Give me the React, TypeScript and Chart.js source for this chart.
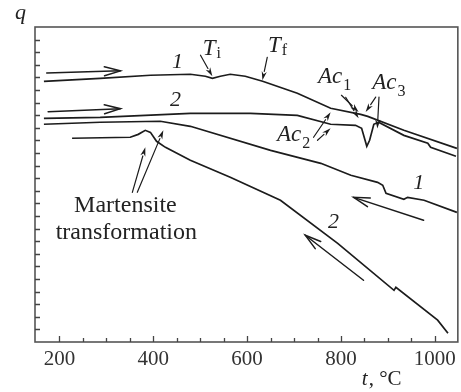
import { useEffect, useRef } from 'react';
import { Chart, registerables } from 'chart.js';

Chart.register(...registerables);

// Axis ticks
const xTickValues = [200, 250, 300, 350, 400, 450, 500, 550, 600, 650, 700, 750, 800, 850, 900, 950, 1000];
const xLabelValues = [200, 400, 600, 800, 1000];
const yTickValues = [1, 2, 3, 4, 5, 6, 7, 8, 9, 10, 11, 12, 13, 14, 15, 16, 17, 18, 19, 20, 21, 22, 23, 24];

// Curve 1, heating
const heat1T = [167, 287, 394, 479, 511, 526, 543, 564, 596, 633, 707, 778, 842, 857, 934, 1047];
const heat1Q = [20.69, 20.93, 21.17, 21.25, 21.09, 20.93, 21.09, 21.25, 21.09, 20.69, 19.74, 18.55, 18.07, 17.91, 16.8, 15.37];

// Curve 2, heating
const heat2T = [167, 287, 479, 607, 707, 778, 831, 844, 855, 861, 870, 880, 934, 985, 991, 1045];
const heat2Q = [17.75, 17.83, 18.15, 18.15, 17.99, 17.28, 17.2, 16.96, 15.53, 16.01, 17.28, 17.44, 16.4, 15.77, 15.45, 14.74];

// Curve 1, cooling
const cool1T = [167, 287, 415, 479, 650, 757, 821, 878, 889, 896, 934, 942, 977, 1047];
const cool1Q = [17.28, 17.44, 17.52, 17.12, 15.21, 14.18, 13.23, 12.67, 12.44, 11.8, 11.33, 11.48, 11.25, 10.29];

// Curve 2, cooling
const cool2T = [227, 351, 368, 383, 394, 407, 426, 479, 564, 671, 793, 913, 917, 1006, 1028];
const cool2Q = [16.17, 16.25, 16.48, 16.8, 16.64, 15.93, 15.45, 14.42, 13.07, 11.25, 7.83, 4.1, 4.34, 1.73, 0.69];

// Direction arrows [t1, q1, t2, q2]
const bigArrows = [
  [173, 21.35, 330, 21.52],
  [176, 18.28, 330, 18.52],
  [976, 9.66, 827, 11.48],
  [848, 4.9, 724, 8.47],
];
// Pointer arrows [t1, q1, t2, q2]
const smallArrows = [
  [500.7, 22.76, 525.9, 21.09],
  [643, 22.6, 632.6, 20.77],
  [801, 19.58, 837.6, 18.25],
  [810, 19.42, 837.6, 17.75],
  [874, 19.44, 852.6, 18.25],
  [881, 19.44, 877.5, 16.94],
  [741.6, 16.25, 777.9, 18.23],
  [750, 16.01, 777.9, 16.96],
  [355.4, 11.88, 383.1, 15.45],
  [366, 11.88, 421.5, 16.8],
];

// Curve number labels
const curveLabelText = ['1', '2', '1', '2'];
const curveLabelT = [451.6, 447.4, 965.7, 784.3];
const curveLabelQ = [22.2, 19.18, 12.6, 9.5];

// Point labels with subscripts
const subMain = ['T', 'T', 'Ac', 'Ac', 'Ac'];
const subSub = ['i', 'f', '1', '3', '2'];
const subT = [505.5, 644.5, 751, 866.5, 663.5];
const subQ = [22.75, 23.0, 20.53, 20.06, 15.93];

// Note
const noteLines = ['Martensite', 'transformation'];
const noteT = [340.7, 342.6];
const noteQ = [10.29, 8.15];

const toPoints = (t: number[], q: number[]) => t.map((v, i) => ({ x: v, y: q[i] }));

const SERIF = '"Liberation Serif", "Times New Roman", serif';
const INK = '#1c1c1c';

function drawArrow(ctx: CanvasRenderingContext2D, x1: number, y1: number, x2: number, y2: number, len: number, half: number, filled: boolean) {
  const ang = Math.atan2(y2 - y1, x2 - x1);
  const cos = Math.cos(ang);
  const sin = Math.sin(ang);
  const bx = x2 - len * cos;
  const by = y2 - len * sin;
  const lx = bx + half * sin;
  const ly = by - half * cos;
  const rx = bx - half * sin;
  const ry = by + half * cos;
  ctx.beginPath();
  ctx.moveTo(x1, y1);
  ctx.lineTo(filled ? bx : x2, filled ? by : y2);
  ctx.stroke();
  ctx.beginPath();
  if (filled) {
    ctx.moveTo(x2, y2);
    ctx.lineTo(lx, ly);
    ctx.lineTo(bx + 0.3 * len * cos, by + 0.3 * len * sin);
    ctx.lineTo(rx, ry);
    ctx.closePath();
    ctx.fill();
  } else {
    ctx.moveTo(lx, ly);
    ctx.lineTo(x2, y2);
    ctx.lineTo(rx, ry);
    ctx.stroke();
  }
}

const decorPlugin = {
  id: 'decor',
  afterDatasetsDraw(chart: any) {
    const { ctx, chartArea } = chart;
    const xs = chart.scales.x;
    const ys = chart.scales.y;
    const { left, right, top, bottom } = chartArea;
    ctx.save();

    // frame
    ctx.strokeStyle = '#555';
    ctx.lineWidth = 1.6;
    ctx.strokeRect(left, top, right - left, bottom - top);

    // inward ticks
    ctx.strokeStyle = '#444';
    ctx.lineWidth = 1.3;
    ctx.beginPath();
    yTickValues.forEach((v) => {
      const y = Math.round(ys.getPixelForValue(v)) + 0.5;
      ctx.moveTo(left, y);
      ctx.lineTo(left + 5, y);
    });
    xTickValues.forEach((v) => {
      const x = Math.round(xs.getPixelForValue(v)) + 0.5;
      const len = xLabelValues.includes(v) ? 6 : 4;
      ctx.moveTo(x, bottom);
      ctx.lineTo(x, bottom - len);
    });
    ctx.stroke();

    // arrows
    ctx.strokeStyle = INK;
    ctx.fillStyle = INK;
    ctx.lineWidth = 1.5;
    ctx.lineCap = 'round';
    bigArrows.forEach((a) => {
      drawArrow(ctx, xs.getPixelForValue(a[0]), ys.getPixelForValue(a[1]), xs.getPixelForValue(a[2]), ys.getPixelForValue(a[3]), 16, 4.5, false);
    });
    ctx.lineWidth = 1.2;
    smallArrows.forEach((a) => {
      drawArrow(ctx, xs.getPixelForValue(a[0]), ys.getPixelForValue(a[1]), xs.getPixelForValue(a[2]), ys.getPixelForValue(a[3]), 9, 2.6, true);
    });

    // curve numbers
    ctx.fillStyle = '#222';
    ctx.textAlign = 'center';
    ctx.textBaseline = 'middle';
    ctx.font = `italic 22px ${SERIF}`;
    curveLabelText.forEach((s, i) => {
      ctx.fillText(s, xs.getPixelForValue(curveLabelT[i]), ys.getPixelForValue(curveLabelQ[i]));
    });

    // labels with subscripts
    ctx.textAlign = 'left';
    ctx.textBaseline = 'alphabetic';
    subMain.forEach((s, i) => {
      const x = xs.getPixelForValue(subT[i]);
      const y = ys.getPixelForValue(subQ[i]);
      ctx.font = `italic 23px ${SERIF}`;
      ctx.fillText(s, x, y);
      const w = ctx.measureText(s).width;
      ctx.font = `16px ${SERIF}`;
      ctx.fillText(subSub[i], x + w + 1, y + (subMain[i] === 'T' ? 3 : 7));
    });

    // note
    ctx.textAlign = 'center';
    ctx.font = `24px ${SERIF}`;
    noteLines.forEach((s, i) => {
      ctx.fillText(s, xs.getPixelForValue(noteT[i]), ys.getPixelForValue(noteQ[i]));
    });

    // axis titles
    ctx.textAlign = 'left';
    ctx.font = `italic 22px ${SERIF}`;
    ctx.fillText('q', left - 20, top - 8);
    ctx.font = `italic 21px ${SERIF}`;
    const tx = right - 96;
    const ty = bottom + 43;
    ctx.fillText('t', tx, ty);
    const tw = ctx.measureText('t').width;
    ctx.font = `21px ${SERIF}`;
    ctx.fillText(', °C', tx + tw + 1, ty);

    ctx.restore();
  },
};

export default function App() {
  const ref = useRef<HTMLCanvasElement | null>(null);

  useEffect(() => {
    document.body.style.margin = '0';
    const canvas = ref.current;
    if (!canvas) return;
    const line = (t: number[], q: number[]) => ({
      data: toPoints(t, q),
      showLine: true,
      borderColor: INK,
      borderWidth: 1.7,
      pointRadius: 0,
      tension: 0,
      fill: false,
    });
    const chart = new Chart(canvas, {
      type: 'scatter',
      data: {
        datasets: [line(heat1T, heat1Q), line(heat2T, heat2Q), line(cool1T, cool1Q), line(cool2T, cool2Q)],
      },
      options: {
        responsive: false,
        animation: false,
        devicePixelRatio: 1,
        layout: { padding: { left: 35, top: 27, right: 3, bottom: 0 } },
        plugins: { legend: { display: false }, tooltip: { enabled: false } },
        scales: {
          x: {
            type: 'linear',
            min: 148,
            max: 1049,
            afterBuildTicks: (s: any) => {
              s.ticks = xTickValues.map((v) => ({ value: v }));
            },
            afterFit: (s: any) => {
              s.height = 50;
            },
            grid: { display: false, drawTicks: false },
            border: { display: false },
            ticks: {
              autoSkip: false,
              maxRotation: 0,
              padding: 5,
              color: '#333',
              font: { family: SERIF, size: 21 },
              callback: (v: any) => (xLabelValues.includes(Number(v)) ? String(v) : ''),
            },
          },
          y: { type: 'linear', min: 0, max: 25, display: false },
        },
      } as any,
      plugins: [decorPlugin],
    });
    return () => chart.destroy();
  }, []);

  return (
    <div style={{ position: 'absolute', left: 0, top: 0, width: 461, height: 392, background: '#fff' }}>
      <canvas ref={ref} width={461} height={392} style={{ display: 'block' }} />
    </div>
  );
}
